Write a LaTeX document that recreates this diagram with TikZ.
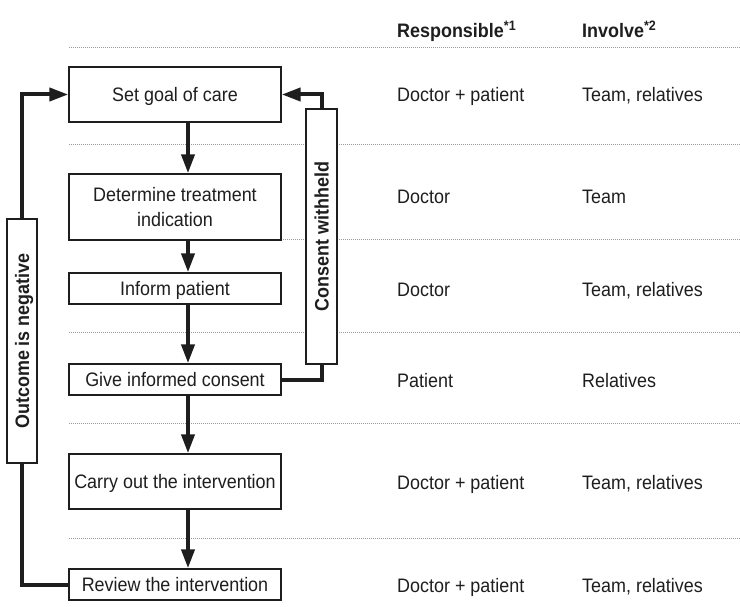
\documentclass[tikz,border=0pt]{standalone}
\usepackage{fontspec}
\setmainfont{Liberation Sans}[FakeStretch=0.92]
\usetikzlibrary{arrows.meta}
\definecolor{ink}{HTML}{1E1E1E}
\definecolor{dotc}{HTML}{9A9A9A}
\begin{document}
\begin{tikzpicture}[x=1pt,y=-1pt,
  every node/.style={font=\fontsize{19.5}{25}\selectfont, text=ink},
  box/.style={draw=ink, line width=1.4pt, fill=white, minimum width=212pt, inner sep=0pt, align=center},
  onel/.style={box, text height=14pt, text depth=0pt},
  side/.style={draw=ink, line width=1.4pt, fill=white, inner sep=0pt, rotate=90, minimum height=30pt, font=\fontsize{19.5}{25}\selectfont\bfseries, text height=14pt, text depth=0pt},
  conn/.style={draw=ink, line width=4pt},
  arr/.style={conn, -{Triangle[length=19pt,width=13pt]}},
  rowline/.style={draw=dotc, line width=0.9pt, dash pattern=on 0.9pt off 1.1pt},
  cell/.style={anchor=base west, inner sep=0pt},
  head/.style={cell, font=\fontsize{19.5}{25}\selectfont\bfseries}
]
\useasboundingbox (0,0) rectangle (740,607);
% dotted row separators
\foreach \yy in {47,144,239,332,423,538}
  \draw[rowline] (69,\yy) -- (740,\yy);
% flow boxes
\node[onel, minimum height=55pt] (goal) at (175,94.5) {Set goal of care};
\node[box, minimum height=66pt] (det) at (175,207) {Determine treatment\\indication};
\node[onel, minimum height=31pt] (inform) at (175,288.5) {Inform patient};
\node[onel, minimum height=31pt] (give) at (175,379.5) {Give informed consent};
\node[onel, minimum height=55pt] (carry) at (175,481.5) {Carry out the intervention};
\node[onel, minimum height=31pt] (review) at (175,584.5) {Review the intervention};
% side boxes
\node[side, minimum width=244pt] (outc) at (22,341) {Outcome is negative};
\node[side, minimum width=255pt, minimum height=31pt] (cons) at (321.5,236.5) {Consent withheld};
% vertical arrows
\coordinate (ax) at (188,0);
\draw[arr] (ax |- goal.south) -- (ax |- det.north);
\draw[arr] (ax |- det.south) -- (ax |- inform.north);
\draw[arr] (ax |- inform.south) -- (ax |- give.north);
\draw[arr] (ax |- give.south) -- (ax |- carry.north);
\draw[arr] (ax |- carry.south) -- (ax |- review.north);
% loops
\draw[arr] (outc.east) |- (goal.west);
\draw[conn] (outc.west) |- (review.west);
\draw[conn] (give.east) -| (cons.west);
\draw[arr] (cons.east) |- (goal.east);
% table
\node[head] (h1) at (397,38) {Responsible\textsuperscript{*1}};
\node[head] (h2) at (582,38) {Involve\textsuperscript{*2}};
\node[cell] (r1a) at (397,102) {Doctor + patient};
\node[cell] (r1b) at (582,102) {Team, relatives};
\node[cell] (r2a) at (397,204) {Doctor};
\node[cell] (r2b) at (582,204) {Team};
\node[cell] (r3a) at (397,296) {Doctor};
\node[cell] (r3b) at (582,296) {Team, relatives};
\node[cell] (r4a) at (397,387) {Patient};
\node[cell] (r4b) at (582,387) {Relatives};
\node[cell] (r5a) at (397,489) {Doctor + patient};
\node[cell] (r5b) at (582,489) {Team, relatives};
\node[cell] (r6a) at (397,592) {Doctor + patient};
\node[cell] (r6b) at (582,592) {Team, relatives};
\end{tikzpicture}
\end{document}
